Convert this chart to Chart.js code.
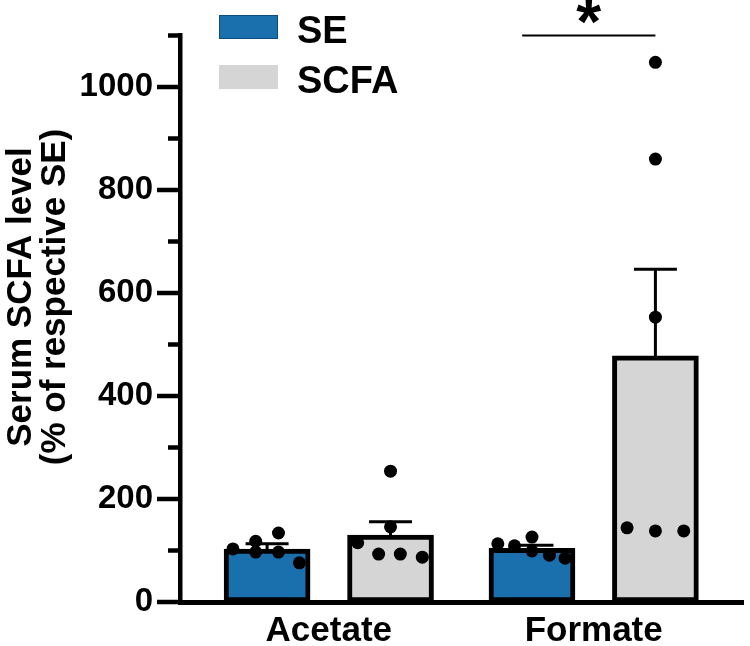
<!DOCTYPE html>
<html>
<head>
<meta charset="utf-8">
<script src="https://cdn.jsdelivr.net/npm/chart.js@4.4.1/dist/chart.umd.min.js"></script>
<style>
  html, body { margin: 0; padding: 0; background: #fff; }
</style>
</head>
<body>
<canvas id="scfaChart" width="750" height="646"></canvas>
<script>
// categories and groups
const categories = ['Acetate', 'Formate'];
const groupNames = ['SE', 'SCFA'];

// bar means and SEM (% of respective SE)
const seMeans = [103, 104];
const scfaMeans = [130, 478];
const seSem = [10, 6];
const scfaSem = [26, 168];

// individual animals
const acetateSE = [103, 118, 97, 134, 97, 76];
const acetateSCFA = [115, 254, 146, 93, 93, 87];
const formateSE = [113, 109, 126, 99, 91, 85];
const formateSCFA = [1048, 860, 553, 144, 138, 138];

// y axis ticks
const yTicks = [0, 100, 200, 300, 400, 500, 600, 700, 800, 900, 1000, 1100];

// layout helpers (not data)
const groupOffset = 0.233;
const jitter = {
  acetateSE: [-0.129, -0.043, -0.043, 0.043, 0.043, 0.122],
  acetateSCFA: [-0.124, 0, 0, -0.045, 0.037, 0.12],
  formateSE: [-0.129, -0.066, 0, 0, 0.066, 0.125],
  formateSCFA: [0, 0, 0, -0.107, 0, 0.107]
};
const blue = '#1a6fad';
const grey = '#d5d5d5';
const FONT = '"Liberation Sans", Arial, sans-serif';

Chart.defaults.color = '#000';
Chart.defaults.font.family = FONT;

function pts(values, cat, side, jit) {
  return values.map((v, i) => ({ x: cat + 1 + side * groupOffset + jit[i], y: v }));
}

const extras = {
  id: 'extras',
  beforeDatasetsDraw(chart) {
    // SEM error bars, behind the bars
    const ctx = chart.ctx;
    const x = chart.scales.x, y = chart.scales.y;
    const sets = [[seMeans, seSem, -1], [scfaMeans, scfaSem, 1]];
    ctx.save();
    ctx.strokeStyle = '#000';
    ctx.lineWidth = 3;
    sets.forEach(([m, s, side]) => {
      m.forEach((mean, i) => {
        const cx = x.getPixelForValue(i + 1 + side * groupOffset);
        const yt = y.getPixelForValue(mean + s[i]);
        const yb = y.getPixelForValue(mean - s[i]);
        ctx.beginPath();
        ctx.moveTo(cx, yt); ctx.lineTo(cx, yb);
        ctx.moveTo(cx - 21.5, yt); ctx.lineTo(cx + 21.5, yt);
        ctx.moveTo(cx - 21.5, yb); ctx.lineTo(cx + 21.5, yb);
        ctx.stroke();
      });
    });
    ctx.restore();
  },
  afterDraw(chart) {
    const ctx = chart.ctx;
    const x = chart.scales.x, y = chart.scales.y;
    const left = chart.chartArea.left;
    ctx.save();
    // y ticks, long at labelled values
    ctx.strokeStyle = '#000';
    ctx.lineWidth = 4.5;
    yTicks.forEach(v => {
      const py = y.getPixelForValue(v);
      const len = v % 200 === 0 ? 23 : 12;
      ctx.beginPath();
      ctx.moveTo(left - len, py);
      ctx.lineTo(left, py);
      ctx.stroke();
    });

    // y title, two lines
    ctx.fillStyle = '#000';
    ctx.font = 'bold 35px ' + FONT;
    ctx.textAlign = 'center';
    ctx.textBaseline = 'alphabetic';
    ctx.translate(31, 297);
    ctx.rotate(-Math.PI / 2);
    ctx.fillText('Serum SCFA level', 0, 0);
    ctx.fillText('(% of respective SE)', 0, 34);
    ctx.setTransform(1, 0, 0, 1, 0, 0);

    // legend
    [[blue, groupNames[0], 15], [grey, groupNames[1], 65]].forEach(([c, name, top]) => {
      ctx.fillStyle = c;
      ctx.fillRect(219, top, 59, 24);
      if (c === blue) {
        ctx.strokeStyle = '#0d4c7e';
        ctx.lineWidth = 1;
        ctx.strokeRect(219.5, top + 0.5, 58, 23);
      }
      ctx.fillStyle = '#000';
      ctx.font = 'bold 38px ' + FONT;
      ctx.textAlign = 'left';
      ctx.fillText(name, 297, top + 28);
    });

    // significance bracket between Formate groups
    const x1 = x.getPixelForValue(1.73);
    const x2 = x.getPixelForValue(2 + groupOffset);
    const by = y.getPixelForValue(1100);
    ctx.strokeStyle = '#000';
    ctx.lineWidth = 2;
    ctx.beginPath();
    ctx.moveTo(x1, by);
    ctx.lineTo(x2, by);
    ctx.stroke();
    ctx.font = 'bold 64px ' + FONT;
    ctx.textAlign = 'center';
    ctx.fillText('*', (x1 + x2) / 2, 44);
    ctx.restore();
  }
};

const ctx = document.getElementById('scfaChart').getContext('2d');
new Chart(ctx, {
  type: 'bar',
  data: {
    datasets: [
      {
        label: groupNames[0],
        data: seMeans.map((v, i) => ({ x: i + 1 - groupOffset, y: v })),
        backgroundColor: blue,
        borderColor: '#000',
        borderWidth: 5,
        borderSkipped: false,
        barThickness: 86,
        grouped: false,
        order: 2
      },
      {
        label: groupNames[1],
        data: scfaMeans.map((v, i) => ({ x: i + 1 + groupOffset, y: v })),
        backgroundColor: grey,
        borderColor: '#000',
        borderWidth: 5,
        borderSkipped: false,
        barThickness: 86,
        grouped: false,
        order: 2
      },
      {
        type: 'scatter',
        label: 'points',
        data: [
          ...pts(acetateSE, 0, -1, jitter.acetateSE),
          ...pts(acetateSCFA, 0, 1, jitter.acetateSCFA),
          ...pts(formateSE, 1, -1, jitter.formateSE),
          ...pts(formateSCFA, 1, 1, jitter.formateSCFA)
        ],
        backgroundColor: '#000',
        borderWidth: 0,
        pointRadius: 6.5,
        order: 1
      }
    ]
  },
  options: {
    responsive: false,
    animation: false,
    layout: { padding: { top: 35.5, right: 2, left: 0, bottom: 0 } },
    plugins: { legend: { display: false }, tooltip: { enabled: false } },
    scales: {
      x: {
        type: 'linear',
        offset: false,
        min: 1 - 150 / 267,
        max: 2 + 151 / 267,
        grid: { display: false, drawTicks: false },
        border: { display: true, color: '#000', width: 5 },
        afterBuildTicks: s => { s.ticks = categories.map((c, i) => ({ value: i + 1 })); },
        afterFit: s => { s.height = 44; s.paddingLeft = 0; s.paddingRight = 0; },
        ticks: {
          padding: 8,
          autoSkip: false,
          maxRotation: 0,
          font: { size: 35, weight: 'bold' },
          callback: v => categories[v - 1]
        }
      },
      y: {
        min: 0,
        max: 1100,
        grid: { display: false, drawTicks: false },
        border: { display: true, color: '#000', width: 4.5 },
        afterBuildTicks: s => { s.ticks = yTicks.map(v => ({ value: v })); },
        afterFit: s => { s.width = 180; s.paddingTop = 0; s.paddingBottom = 0; },
        ticks: {
          padding: 27,
          font: { size: 33, weight: 'bold' },
          callback: v => (v % 200 === 0 ? v : '')
        }
      }
    }
  },
  plugins: [extras]
});
</script>
</body>
</html>
